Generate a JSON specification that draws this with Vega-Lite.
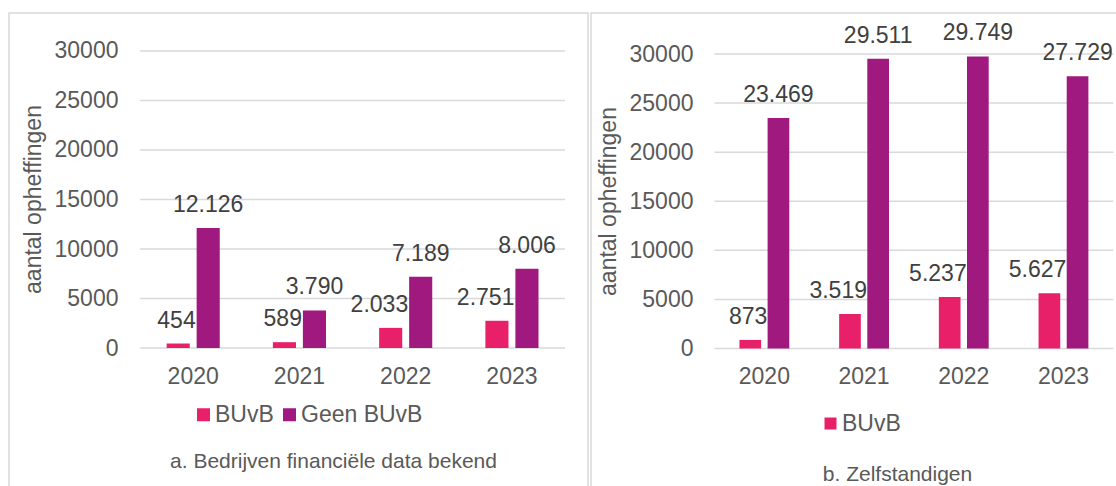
{
  "$schema": "https://vega.github.io/schema/vega-lite/v6.json",
  "padding": {"left": 8, "top": 12, "right": 0, "bottom": 0},
  "background": "white",
  "datasets": {
    "a": [
      {"jaar": "2020", "serie": "BUvB", "aantal": 454},
      {"jaar": "2020", "serie": "Geen BUvB", "aantal": 12126},
      {"jaar": "2021", "serie": "BUvB", "aantal": 589},
      {"jaar": "2021", "serie": "Geen BUvB", "aantal": 3790},
      {"jaar": "2022", "serie": "BUvB", "aantal": 2033},
      {"jaar": "2022", "serie": "Geen BUvB", "aantal": 7189},
      {"jaar": "2023", "serie": "BUvB", "aantal": 2751},
      {"jaar": "2023", "serie": "Geen BUvB", "aantal": 8006}
    ],
    "b": [
      {"jaar": "2020", "serie": "BUvB", "aantal": 873},
      {"jaar": "2020", "serie": "Geen BUvB", "aantal": 23469},
      {"jaar": "2021", "serie": "BUvB", "aantal": 3519},
      {"jaar": "2021", "serie": "Geen BUvB", "aantal": 29511},
      {"jaar": "2022", "serie": "BUvB", "aantal": 5237},
      {"jaar": "2022", "serie": "Geen BUvB", "aantal": 29749},
      {"jaar": "2023", "serie": "BUvB", "aantal": 5627},
      {"jaar": "2023", "serie": "Geen BUvB", "aantal": 27729}
    ],
    "grid": [
      {"aantal": 0}, {"aantal": 5000}, {"aantal": 10000}, {"aantal": 15000},
      {"aantal": 20000}, {"aantal": 25000}, {"aantal": 30000}
    ]
  },
  "spacing": 1,
  "resolve": {
    "scale": {"x": "independent", "y": "independent", "xOffset": "independent"},
    "legend": {"color": "independent"}
  },
  "hconcat": [
    {
      "width": 579,
      "height": 480,
      "data": {"name": "a"},
      "encoding": {
        "y": {
          "field": "aantal",
          "type": "quantitative",
          "scale": {"domain": [-14646, 33838], "nice": false, "zero": false},
          "axis": {
            "values": [0, 5000, 10000, 15000, 20000, 25000, 30000],
            "format": "d",
            "offset": -131,
            "domain": false,
            "ticks": false,
            "tickSize": 0,
            "grid": false,
            "labelPadding": 22,
            "labelFontSize": 23,
            "labelColor": "#595959",
            "title": "aantal opheffingen",
            "titleFontSize": 23,
            "titleFontWeight": "normal",
            "titleColor": "#595959",
            "titlePadding": 9,
            "titleY": 186
          }
        },
        "x": {
          "field": "jaar",
          "type": "nominal",
          "scale": {"paddingInner": 0.5, "paddingOuter": 0.9747, "align": 0.761},
          "axis": {
            "orient": "bottom",
            "offset": -145,
            "domain": false,
            "ticks": false,
            "tickSize": 0,
            "grid": false,
            "labelAngle": 0,
            "labelPadding": 17,
            "labelFontSize": 23,
            "labelColor": "#595959",
            "title": "a. Bedrijven financiële data bekend",
            "titleFontSize": 21,
            "titleFontWeight": "normal",
            "titleColor": "#595959",
            "titleX": 324,
            "titleY": 119,
            "titleBaseline": "alphabetic",
            "titleAlign": "center"
          }
        }
      },
      "layer": [
        {
          "data": {"name": "grid"},
          "mark": {"type": "rule", "color": "#d9d9d9", "strokeWidth": 1.5},
          "encoding": {
            "x": {"datum": "2020", "bandPosition": -0.5},
            "x2": {"datum": "2023", "bandPosition": 1.5}
          }
        },
        {
          "mark": {"type": "bar"},
          "encoding": {
            "xOffset": {"field": "serie", "scale": {"paddingInner": 0.23, "paddingOuter": 0}},
            "color": {
              "field": "serie",
              "type": "nominal",
              "scale": {"domain": ["BUvB", "Geen BUvB"], "range": ["#E8206A", "#A0197F"]},
              "legend": {
                "title": null,
                "orient": "none",
                "legendX": 183,
                "legendY": 390,
                "direction": "horizontal",
                "symbolType": "square",
                "symbolSize": 169,
                "symbolStrokeWidth": 0,
                "labelFontSize": 23,
                "labelColor": "#595959",
                "labelOffset": 0,
                "columnPadding": 4,
                "padding": 0
              }
            }
          }
        },
        {
          "transform": [{"filter": "datum.serie === 'BUvB'"}],
          "mark": {"type": "text", "align": "right", "baseline": "alphabetic", "dx": 17.5, "dy": -16, "fontSize": 23, "color": "#404040"},
          "encoding": {
            "xOffset": {"field": "serie"},
            "text": {"field": "aantal", "type": "quantitative", "format": ",d"}
          }
        },
        {
          "transform": [{"filter": "datum.serie !== 'BUvB'"}],
          "mark": {"type": "text", "align": "center", "baseline": "alphabetic", "dy": -16, "fontSize": 23, "color": "#404040"},
          "encoding": {
            "xOffset": {"field": "serie"},
            "text": {"field": "aantal", "type": "quantitative", "format": ",d"}
          }
        }
      ]
    },
    {
      "width": 540,
      "height": 480,
      "data": {"name": "b"},
      "encoding": {
        "y": {
          "field": "aantal",
          "type": "quantitative",
          "scale": {"domain": [-14720, 34177], "nice": false, "zero": false},
          "axis": {
            "values": [0, 5000, 10000, 15000, 20000, 25000, 30000],
            "format": "d",
            "offset": -123.6,
            "domain": false,
            "ticks": false,
            "tickSize": 0,
            "grid": false,
            "labelPadding": 21.6,
            "labelFontSize": 23,
            "labelColor": "#595959",
            "title": "aantal opheffingen",
            "titleFontSize": 23,
            "titleFontWeight": "normal",
            "titleColor": "#595959",
            "titlePadding": 9,
            "titleY": 188
          }
        },
        "x": {
          "field": "jaar",
          "type": "nominal",
          "scale": {"paddingInner": 0.5, "paddingOuter": 0.958, "align": 0.777},
          "axis": {
            "orient": "bottom",
            "offset": -144.5,
            "domain": false,
            "ticks": false,
            "tickSize": 0,
            "grid": false,
            "labelAngle": 0,
            "labelPadding": 17,
            "labelFontSize": 23,
            "labelColor": "#595959",
            "title": "b. Zelfstandigen",
            "titleFontSize": 21,
            "titleFontWeight": "normal",
            "titleColor": "#595959",
            "titleX": 306,
            "titleY": 132,
            "titleBaseline": "alphabetic",
            "titleAlign": "center"
          }
        }
      },
      "layer": [
        {
          "data": {"name": "grid"},
          "mark": {"type": "rule", "color": "#d9d9d9", "strokeWidth": 1.5},
          "encoding": {
            "x": {"datum": "2020", "bandPosition": -0.5},
            "x2": {"datum": "2023", "bandPosition": 1.5}
          }
        },
        {
          "mark": {"type": "bar"},
          "encoding": {
            "xOffset": {"field": "serie", "scale": {"paddingInner": 0.23, "paddingOuter": 0}},
            "color": {
              "field": "serie",
              "type": "nominal",
              "scale": {"domain": ["BUvB", "Geen BUvB"], "range": ["#E8206A", "#A0197F"]},
              "legend": {
                "title": null,
                "values": ["BUvB"],
                "orient": "none",
                "legendX": 228,
                "legendY": 399,
                "direction": "horizontal",
                "symbolType": "square",
                "symbolSize": 144,
                "symbolStrokeWidth": 0,
                "labelFontSize": 23,
                "labelColor": "#595959",
                "labelOffset": 0,
                "padding": 0
              }
            }
          }
        },
        {
          "transform": [{"filter": "datum.serie === 'BUvB'"}],
          "mark": {"type": "text", "align": "right", "baseline": "alphabetic", "dx": 17, "dy": -16, "fontSize": 23, "color": "#404040"},
          "encoding": {
            "xOffset": {"field": "serie"},
            "text": {"field": "aantal", "type": "quantitative", "format": ",d"}
          }
        },
        {
          "transform": [{"filter": "datum.serie !== 'BUvB'"}],
          "mark": {"type": "text", "align": "center", "baseline": "alphabetic", "dy": -16, "fontSize": 23, "color": "#404040"},
          "encoding": {
            "xOffset": {"field": "serie"},
            "text": {"field": "aantal", "type": "quantitative", "format": ",d"}
          }
        }
      ]
    }
  ],
  "config": {
    "font": "Liberation Sans",
    "view": {"stroke": "#d9d9d9", "strokeWidth": 1.5},
    "locale": {"number": {"decimal": ",", "thousands": ".", "grouping": [3], "currency": ["€", ""]}}
  }
}
